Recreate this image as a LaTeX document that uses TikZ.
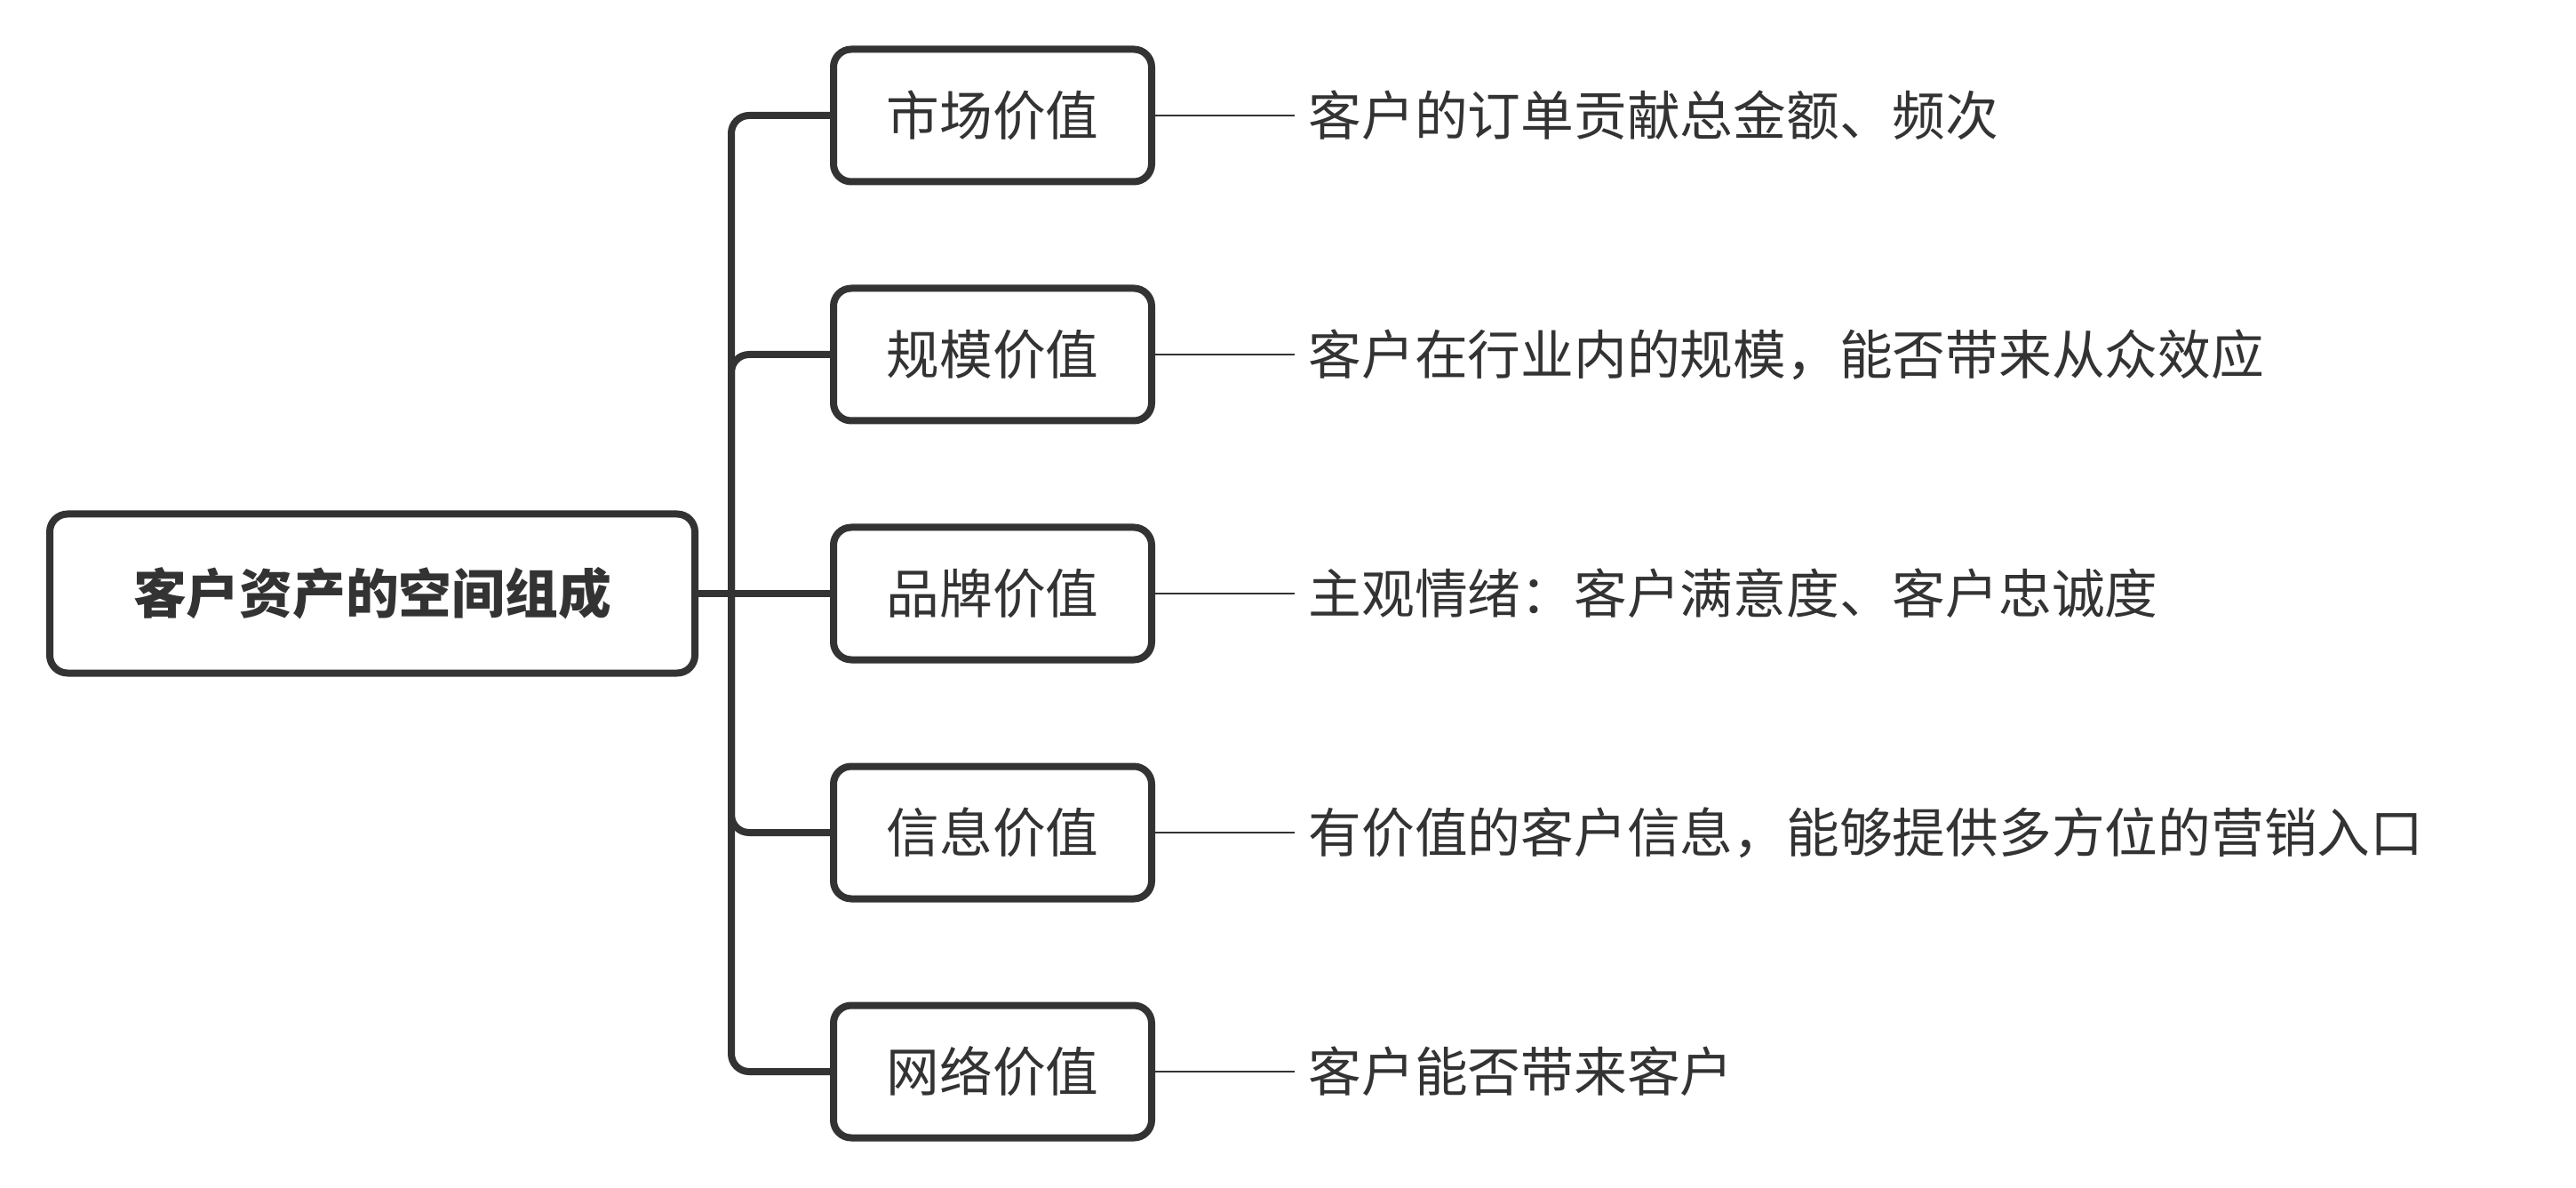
\documentclass[tikz,border=0pt]{standalone}
\usepackage{fontspec}
\newfontfamily\cjk{Noto Sans CJK SC}
\usetikzlibrary{positioning}
\definecolor{ink}{HTML}{333333}
\tikzstyle{topic} = [rectangle, draw=ink, line width=0.08cm, rounded corners=0.2cm,
    minimum width=7.26cm, minimum height=1.79cm, text=ink,
    font=\cjk\bfseries\fontsize{17pt}{20pt}\selectfont]
\tikzstyle{value} = [rectangle, draw=ink, line width=0.08cm, rounded corners=0.2cm,
    minimum width=3.58cm, minimum height=1.49cm, text=ink,
    font=\cjk\fontsize{17pt}{20pt}\selectfont]
\tikzstyle{note} = [inner sep=0.15cm, anchor=west, text=ink,
    font=\cjk\fontsize{17pt}{20pt}\selectfont]
\tikzstyle{branch} = [draw=ink, line width=0.08cm, rounded corners=0.2cm]
\tikzstyle{leader} = [draw=ink, line width=0.025cm]

\begin{document}
\begin{tikzpicture}
    \useasboundingbox (0,0) rectangle (28.99,13.36);
    \node[topic] (root) at (4.19,6.68) {客户资产的空间组成};

    \node[value,right=1.48cm of root] (brand) {品牌价值};
    \node[value,above=1.12cm of brand] (scale) {规模价值};
    \node[value,above=1.12cm of scale] (market) {市场价值};
    \node[value,below=1.12cm of brand] (info) {信息价值};
    \node[value,below=1.12cm of info] (network) {网络价值};

    \node[note,right=1.57cm of market] (marketNote) {客户的订单贡献总金额、频次};
    \node[note,right=1.57cm of scale] (scaleNote) {客户在行业内的规模，能否带来从众效应};
    \node[note,right=1.57cm of brand] (brandNote) {主观情绪：客户满意度、客户忠诚度};
    \node[note,right=1.57cm of info] (infoNote) {有价值的客户信息，能够提供多方位的营销入口};
    \node[note,right=1.57cm of network] (networkNote) {客户能否带来客户};

    \coordinate[right=0.37cm of root] (fork);

    \path[branch] (fork) |- (market);
    \path[branch] (fork) |- (scale);
    \path[branch] (root) -- (brand);
    \path[branch] (fork) |- (info);
    \path[branch] (fork) |- (network);

    \path[leader] (market) -- (marketNote);
    \path[leader] (scale) -- (scaleNote);
    \path[leader] (brand) -- (brandNote);
    \path[leader] (info) -- (infoNote);
    \path[leader] (network) -- (networkNote);
\end{tikzpicture}
\end{document}
